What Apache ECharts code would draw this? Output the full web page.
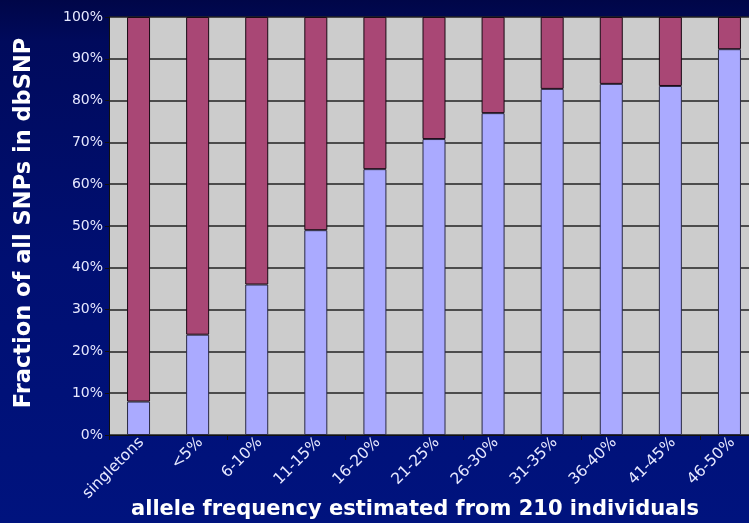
<!DOCTYPE html>
<html>
<head>
<meta charset="utf-8">
<script src="https://cdn.jsdelivr.net/npm/echarts@6/dist/echarts.min.js"></script>
<style>
  html, body { margin: 0; padding: 0; background: #000a60; }
  #chart { width: 749px; height: 523px; }
</style>
</head>
<body>
<div id="chart"></div>
<script>
// Allele-frequency bins
const categories = ['singletons', '<5%', '6-10%', '11-15%', '16-20%', '21-25%',
  '26-30%', '31-35%', '36-40%', '41-45%', '46-50%'];
// Share (%) of SNPs in each bin, lower (light) segment
const lowerShare = [8, 24, 36, 49, 63.6, 70.8, 77, 82.8, 84, 83.5, 92.3];
// Remaining share (%) stacked on top
const upperShare = lowerShare.map(v => +(100 - v).toFixed(1));
const yTicks = [0, 10, 20, 30, 40, 50, 60, 70, 80, 90, 100];

const chart = echarts.init(document.getElementById('chart'), null, { renderer: 'canvas' });

const font = 'DejaVu Sans, Verdana, sans-serif';
const plotLeft = 109, plotTop = 17, plotWidth = 650, plotHeight = 418;

chart.setOption({
  animation: false,
  backgroundColor: {
    type: 'linear', x: 0, y: 0, x2: 0, y2: 1,
    colorStops: [
      { offset: 0, color: '#000648' },
      { offset: 0.08, color: '#000a5c' },
      { offset: 0.5, color: '#000f72' },
      { offset: 1, color: '#00137e' }
    ]
  },
  grid: [
    {
      left: plotLeft, top: plotTop, width: plotWidth, height: plotHeight,
      show: true, backgroundColor: '#cccccc', borderWidth: 0,
      outerBoundsMode: 'none', containLabel: false
    },
    {
      // label-only grid, nudged so the slanted bin names sit just right of each tick centre
      left: plotLeft + 3, top: plotTop, width: plotWidth, height: plotHeight,
      show: false, outerBoundsMode: 'none', containLabel: false
    }
  ],
  xAxis: [
    {
      type: 'category', gridIndex: 0,
      data: categories,
      axisLine: { show: true, lineStyle: { color: '#111', width: 1 } },
      axisTick: { show: true, length: 5, lineStyle: { color: '#111' } },
      axisLabel: { show: false },
      splitLine: { show: false }
    },
    {
      type: 'category', gridIndex: 1,
      data: categories,
      axisLine: { show: false },
      axisTick: { show: false },
      axisLabel: {
        rotate: 45, color: '#e6e8ff', fontFamily: font, fontSize: 15.5,
        margin: 5, interval: 0
      },
      splitLine: { show: false }
    }
  ],
  yAxis: [
    {
      type: 'value', gridIndex: 0,
      min: yTicks[0], max: yTicks[yTicks.length - 1], interval: 10,
      axisLine: { show: true, lineStyle: { color: '#111', width: 1 } },
      axisTick: { show: true, length: 4, lineStyle: { color: '#111' } },
      axisLabel: {
        color: '#e6e8ff', fontFamily: font, fontSize: 14, margin: 6,
        formatter: v => v + '%'
      },
      splitLine: { show: true, lineStyle: { color: '#222', width: 1.5 } }
    },
    {
      type: 'value', gridIndex: 1, min: 0, max: 100, show: false
    }
  ],
  graphic: [
    {
      type: 'text', z: 10, x: 415, y: 499,
      style: {
        text: 'allele frequency estimated from 210 individuals',
        fill: '#ffffff', font: 'bold 21px ' + font,
        align: 'center', verticalAlign: 'top'
      }
    },
    {
      type: 'text', z: 10,
      x: 13, y: 223, rotation: Math.PI / 2,
      style: {
        text: 'Fraction of all SNPs in dbSNP',
        fill: '#ffffff', font: 'bold 22.5px ' + font,
        align: 'center', verticalAlign: 'top'
      }
    }
  ],
  series: [
    {
      name: 'lower', type: 'bar', stack: 'all', barWidth: 23,
      xAxisIndex: 0, yAxisIndex: 0,
      data: lowerShare,
      itemStyle: { color: '#aaaaff', borderColor: '#2a2a44', borderWidth: 1 }
    },
    {
      name: 'upper', type: 'bar', stack: 'all', barWidth: 23,
      xAxisIndex: 0, yAxisIndex: 0,
      data: upperShare,
      itemStyle: { color: '#a94775', borderColor: '#1a0a14', borderWidth: 1 }
    }
  ]
});
</script>
</body>
</html>
